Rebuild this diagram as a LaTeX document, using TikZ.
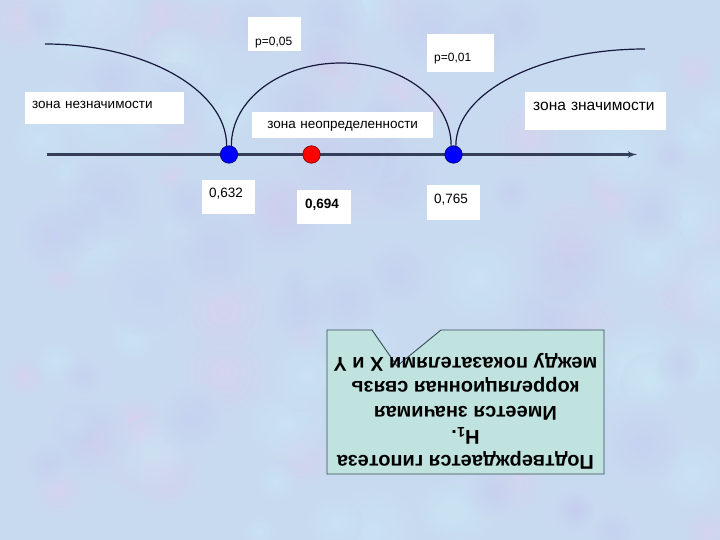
\documentclass[tikz,border=0pt]{standalone}
\usepackage{fontspec}
\setmainfont{Liberation Sans}
\usetikzlibrary{arrows}

\begin{document}
\begin{tikzpicture}[>=latex', x=1pt, y=-1pt]

\definecolor{slidebase}{RGB}{200, 218, 240}
\definecolor{slidepink}{RGB}{228, 204, 236}
\definecolor{slidecyan}{RGB}{204, 236, 246}
\definecolor{slidelilac}{RGB}{196, 200, 238}
\definecolor{axisgray}{RGB}{52, 62, 88}
\definecolor{arcnavy}{RGB}{22, 24, 62}
\definecolor{calloutteal}{RGB}{192, 227, 223}
\definecolor{calloutedge}{RGB}{55, 75, 85}

% Fill background
\useasboundingbox (0,0) rectangle (720,540);
\fill[slidebase] (0,0) rectangle (720,540);
\pgfmathsetseed{42}
\foreach \bcol in {slidepink, slidecyan, slidelilac} {
    \foreach \i in {1,...,45} {
        \pgfmathsetmacro{\bx}{rnd*720}
        \pgfmathsetmacro{\by}{rnd*540}
        \pgfmathsetmacro{\br}{15+rnd*35}
        \shade[inner color=\bcol, outer color=slidebase, opacity=0.45] (\bx,\by) circle (\br pt);
    }
}

\tikzset{
    tag/.style={
        fill=white, inner ysep=0pt, anchor=north west,
        align=left, text=black,
        font=\fontsize{13.5}{16}\selectfont
    },
    crit dot/.style={
        circle, inner sep=0pt, minimum size=17.5pt,
        draw=#1!45!black, fill=#1, line width=0.6pt
    },
    axis line/.style={
        draw=axisgray, line width=2.2pt
    },
    zone arc/.style={
        draw=arcnavy, line width=1.2pt
    },
    verdict/.style={
        text=black, align=center,
        font=\fontsize{20}{24.5}\selectfont\bfseries
    }
}

% Number axis with the critical values
\coordinate (axstart) at (47,154.5);
\coordinate (axend) at (637,154.5);
\draw[axis line, ->] (axstart) -- (axend);

\node[crit dot=blue] (c05) at (229,154.5) {};
\node[crit dot=red] (robs) at (311.5,154.5) {};
\node[crit dot=blue] (c01) at (453.5,154.5) {};

% Zone arcs
\coordinate (arcleft) at (45,44);
\coordinate (arctop) at (341,63);
\coordinate (arcright) at (645,49);
\draw[zone arc] (arcleft) .. controls +(100,0) and +(0,-56) .. (c05.105);
\draw[zone arc] (c05.75) .. controls +(0,-46) and +(-61,0) .. (arctop)
    .. controls +(61,0) and +(0,-46) .. (c01.105);
\draw[zone arc] (c01.75) .. controls +(0,-54) and +(-104,0) .. (arcright);

% Zone labels
\node[tag, inner xsep=7pt, text width=145pt, text height=16pt, text depth=16pt] (nonsig) at (25,92) {зона незначимости};
\node[tag, inner xsep=7pt, text width=167pt, text height=16pt, text depth=10pt, align=center] (uncert) at (252,112) {зона неопределенности};
\node[tag, inner xsep=8pt, text width=125pt, text height=18pt, text depth=20pt, font=\fontsize{15.5}{18}\selectfont] (signif) at (525,92) {зона значимости};

% Significance levels
\node[tag, inner xsep=7pt, text width=39pt, text height=28pt, text depth=6pt, font=\fontsize{12}{14}\selectfont] (p05) at (248,17) {p=0,05};
\node[tag, inner xsep=7pt, text width=53pt, text height=27pt, text depth=11pt, font=\fontsize{12}{14}\selectfont] (p01) at (427,34) {p=0,01};

% Values on the axis
\node[tag, inner xsep=7pt, text width=39pt, text height=17pt, text depth=17pt] (v632) at (202,180) {0,632};
\node[tag, inner xsep=8pt, text width=38pt, text height=18pt, text depth=16pt, font=\fontsize{13.5}{16}\selectfont\bfseries] (v694) at (297,190) {0,694};
\node[tag, inner xsep=7pt, text width=39pt, text height=18pt, text depth=17pt] (v765) at (427,185) {0,765};

% Conclusion callout (upside down)
\draw[fill=calloutteal, draw=calloutedge, line width=0.9pt]
    (327,330) -- (372,330) -- (397,366) -- (441,330) -- (604,330)
    -- (604,474) -- (327,474) -- cycle;
\node[verdict, rotate=180] (concl) at (465.5,411) {Подтверждается гипотеза\\H\textsubscript{1}.\\Имеется значимая\\корреляционная связь\\между показателями X и Y};

\end{tikzpicture}
\end{document}
